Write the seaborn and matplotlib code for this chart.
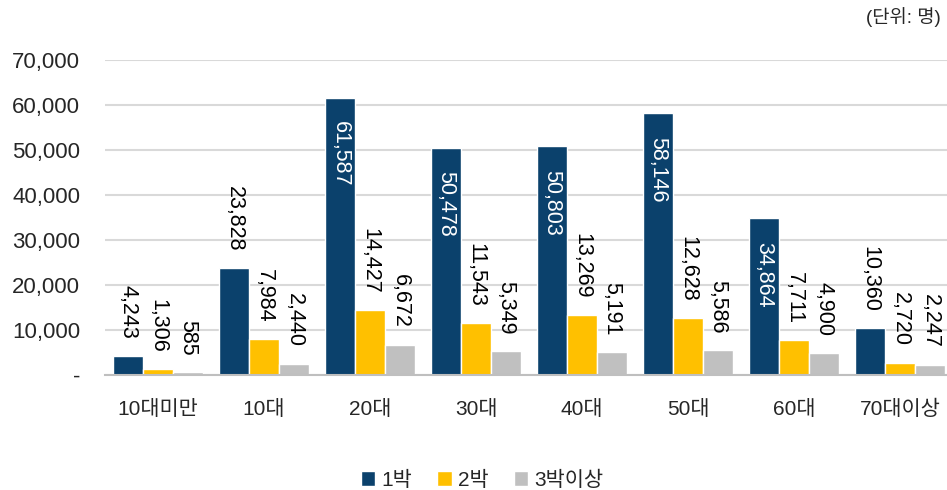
import numpy as np
import pandas as pd
import matplotlib
matplotlib.use("Agg")
import matplotlib.pyplot as plt
import seaborn as sns

ages = ["10대미만", "10대", "20대", "30대", "40대", "50대", "60대", "70대이상"]
stays = ["1박", "2박", "3박이상"]
one_night = [4243, 23828, 61587, 50478, 50803, 58146, 34864, 10360]
two_nights = [1306, 7984, 14427, 11543, 13269, 12628, 7711, 2720]
three_plus = [585, 2440, 6672, 5349, 5191, 5586, 4900, 2247]
y_ticks = [0, 10000, 20000, 30000, 40000, 50000, 60000, 70000]

colors = ["#0B416C", "#FFC000", "#C0C0C0"]

df = pd.DataFrame({
    "age": ages * 3,
    "stay": [s for s in stays for _ in ages],
    "count": one_night + two_nights + three_plus,
})

sns.set_theme(style="white")
plt.rcParams["font.family"] = ["Liberation Sans", "Noto Sans CJK KR"]

fig = plt.figure(figsize=(9.47, 4.90), dpi=100)
ax = fig.add_axes([105 / 947, 1 - 375 / 490, 848 / 947, 315 / 490])

sns.barplot(data=df, x="age", y="count", hue="stay", palette=colors,
            width=0.85, saturation=1, ax=ax, legend=True)

ax.set_ylim(0, 70000)
ax.set_xlim(-0.5, 7.5)
ax.set_yticks(y_ticks)
ax.set_yticklabels([f"{v:,}" if v else "-" for v in y_ticks])
ax.yaxis.grid(True, color="#D9D9D9", linewidth=1.5)
ax.set_axisbelow(True)
ax.set_xlabel("")
ax.set_ylabel("")
for side in ["left", "right", "top"]:
    ax.spines[side].set_visible(False)
ax.spines["bottom"].set_color("#BFBFBF")
ax.spines["bottom"].set_linewidth(1.5)
ax.tick_params(axis="y", length=0, pad=18, labelsize=16)
ax.tick_params(axis="x", length=0, pad=18, labelsize=15)

# value labels, rotated; tall dark bars get the label inside in white
for container in ax.containers:
    for bar in container:
        h = bar.get_height()
        x = bar.get_x() + bar.get_width() / 2
        if h > 30000:
            ax.annotate(f"{h:,.0f}", (x, h), xytext=(0, -17), textcoords="offset points",
                        rotation=270, ha="center", va="top", fontsize=15.5, color="white")
        else:
            ax.annotate(f"{h:,.0f}", (x, h), xytext=(0, 12), textcoords="offset points",
                        rotation=270, ha="center", va="bottom", fontsize=15.5, color="black")

handles, labels = ax.get_legend_handles_labels()
ax.legend_.remove()
fig.legend(handles, labels, loc="center", bbox_to_anchor=(482 / 947, 1 - 480 / 490),
           ncol=3, frameon=False, fontsize=15, handlelength=0.7, handleheight=0.7,
           handletextpad=0.3, columnspacing=1.2)

fig.text(0.993, 1 - 17 / 490, "(단위: 명)", ha="right", va="center", fontsize=13.5)

fig.savefig("out.png", dpi=100)
